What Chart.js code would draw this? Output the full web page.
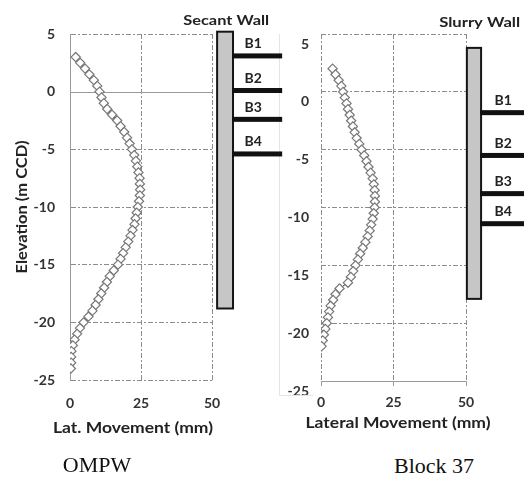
<!DOCTYPE html>
<html>
<head>
<meta charset="utf-8">
<script src="https://cdn.jsdelivr.net/npm/chart.js@4"></script>
<style>
  body { margin: 0; background: #fff; width: 524px; height: 478px; position: relative; overflow: hidden; }
  canvas { position: absolute; top: 0; }
  #ompw { left: 0; }
  #block { left: 262px; }
  .cap { position: absolute; width: 120px; text-align: center; font-family: "Liberation Serif", "Times New Roman", serif; font-size: 22px; line-height: 22px; color: #111; }
</style>
</head>
<body>
<canvas id="block" width="262" height="440"></canvas>
<canvas id="ompw" width="290" height="440"></canvas>
<div class="cap" style="left:37px;top:454px">OMPW</div>
<div class="cap" style="left:374px;top:455px">Block 37</div>
<script>
// OMPW inclinometer (elevation m CCD, lateral movement mm)
const ompwElev = [3, 2.5, 2, 1.5, 1, 0.5, 0, -0.5, -1, -1.5, -2, -2.5, -3, -3.5, -4, -4.5, -5, -5.5, -6, -6.5,
  -7, -7.5, -8, -8.5, -9, -9.5, -10, -10.5, -11, -11.5, -12, -12.5, -13, -13.5, -14, -14.5, -15, -15.5, -16, -16.5,
  -17, -17.5, -18, -18.5, -19, -19.5, -20, -20.5, -21, -21.5, -22, -22.5, -23, -23.5, -24];
const ompwMove = [2.0, 3.6, 5.3, 6.8, 8.4, 9.6, 10.4, 11.1, 11.9, 13.1, 14.8, 16.6, 17.8, 19.1, 20.1, 21.0, 21.8, 22.6, 23.2, 23.7,
  24.1, 24.5, 24.6, 24.7, 24.6, 24.3, 23.9, 23.5, 23.1, 22.7, 22.0, 21.3, 20.5, 19.6, 18.7, 17.8, 16.9, 15.4, 14.0, 13.0,
  12.0, 11.0, 10.0, 9.0, 7.9, 6.5, 4.8, 3.5, 2.5, 1.6, 1.0, 0.5, 0.4, 0.4, 0.3];

// Block 37 inclinometer
const blockElev = [2, 1.5, 1, 0.5, 0, -0.5, -1, -1.5, -2, -2.5, -3, -3.5, -4, -4.5, -5, -5.5, -6, -6.5, -7, -7.5,
  -8, -8.5, -9, -9.5, -10, -10.5, -11, -11.5, -12, -12.5, -13, -13.5, -14, -14.5, -15, -15.5, -16, -16.5, -17, -17.5,
  -18, -18.5, -19, -19.5, -20, -20.5, -21, -21.5, -22];
const blockMove = [4.0, 5.0, 6.1, 7.0, 7.6, 8.2, 8.8, 9.3, 9.9, 10.4, 11.0, 11.6, 12.3, 13.2, 14.0, 14.9, 15.7, 16.4, 17.1, 17.8,
  18.2, 18.5, 18.6, 18.6, 18.5, 18.2, 17.8, 17.3, 16.8, 16.1, 15.3, 14.4, 13.5, 12.7, 11.9, 11.1, 10.3, 9.3, 6.4, 5.0,
  4.2, 3.3, 2.8, 2.4, 2.0, 1.5, 1.0, 0.6, 0.2];

// walls and struts (elevations)
const strutNames = ['B1', 'B2', 'B3', 'B4'];
const secantStruts = [3.1, 0.1, -2.4, -5.4];
const secantWall = { top: 5.2, bottom: -18.8, x: [51.8, 57.4], strutEnd: 74.7, labelX: 64.5 };
const slurryStruts = [-1.8, -5.5, -8.8, -11.4];
const slurryWall = { top: 3.8, bottom: -17.9, x: [50.3, 55.2], strutEnd: 72, labelX: 62.8 };

const elevTicks = [5, 0, -5, -10, -15, -20, -25];
const moveTicks = [0, 25, 50];

const FONT = 'Lato, "Open Sans", sans-serif';
const DASH = [5, 2, 2, 2];

// text squeezed/stretched to the width it has in the scanned figure
function wideText(ctx, text, cx, cy, width, rot) {
  ctx.save();
  ctx.translate(cx, cy);
  if (rot) ctx.rotate(rot);
  ctx.scale(width / ctx.measureText(text).width, 1);
  ctx.fillText(text, 0, 0);
  ctx.restore();
}

const wallPlugin = {
  id: 'wall',
  beforeDatasetsDraw(chart, args, o) {
    const { ctx, chartArea: a, scales: { y } } = chart;
    ctx.save();
    if (o.zeroLine) {
      const py = Math.round(y.getPixelForValue(0)) + 0.5;
      ctx.strokeStyle = '#9a9a9a';
      ctx.lineWidth = 1;
      ctx.beginPath(); ctx.moveTo(a.left, py); ctx.lineTo(a.right, py); ctx.stroke();
    }
    if (o.ghost) {
      ctx.strokeStyle = '#e4e4e4';
      ctx.lineWidth = 1;
      const gx = a.left - 41.5, gy = a.bottom + 14.5;
      ctx.beginPath(); ctx.moveTo(gx, a.top); ctx.lineTo(gx, gy); ctx.lineTo(a.left - 8, gy); ctx.stroke();
    }
    ctx.restore();
  },
  afterDatasetsDraw(chart, args, o) {
    const { ctx, chartArea: a, scales: { x, y } } = chart;
    const w = o.wall;
    const x0 = x.getPixelForValue(w.x[0]), x1 = x.getPixelForValue(w.x[1]);
    const y0 = y.getPixelForValue(w.top), y1 = y.getPixelForValue(w.bottom);
    const xe = x.getPixelForValue(w.strutEnd), xl = x.getPixelForValue(w.labelX);
    ctx.save();
    ctx.fillStyle = '#c6c6c6';
    ctx.fillRect(x0, y0, x1 - x0, y1 - y0);
    ctx.strokeStyle = '#151515';
    ctx.lineWidth = 2;
    ctx.strokeRect(x0, y0, x1 - x0, y1 - y0);
    ctx.font = 'bold 14px ' + FONT;
    ctx.textAlign = 'center';
    ctx.textBaseline = 'middle';
    o.struts.forEach((e, i) => {
      const py = y.getPixelForValue(e);
      ctx.fillStyle = '#111';
      ctx.fillRect(x1 - 1, py - 2.5, xe - x1 + 1, 5);
      ctx.fillStyle = '#222';
      ctx.fillText(strutNames[i], xl, py - 12);
    });
    ctx.font = 'bold 14px ' + FONT;
    wideText(ctx, o.name, x.getPixelForValue(o.nameX), y.getPixelForValue(o.nameY), o.nameW);

    // axis titles
    ctx.font = 'bold 15px ' + FONT;
    ctx.fillStyle = '#222';
    const xt = o.xTitle;
    wideText(ctx, xt.text, (a.left + a.right) / 2 + xt.dx, a.bottom + xt.dy, xt.w);
    if (o.yTitle) {
      const yt = o.yTitle;
      wideText(ctx, yt.text, a.left + yt.dx, (a.top + a.bottom) / 2, yt.w, -Math.PI / 2);
    }
    ctx.restore();
  }
};

function dataset(elev, move) {
  return {
    data: elev.map((e, i) => ({ x: move[i], y: e })),
    showLine: true,
    borderColor: '#333',
    borderWidth: 1,
    pointStyle: 'rectRot',
    pointRadius: 4.6,
    pointBackgroundColor: '#fff',
    pointBorderColor: '#777',
    pointBorderWidth: 1.2
  };
}

// OMPW / secant wall
new Chart(document.getElementById('ompw'), {
  type: 'scatter',
  data: { datasets: [dataset(ompwElev, ompwMove)] },
  options: {
    responsive: false,
    animation: false,
    layout: { padding: { top: 34, right: 78, left: 0, bottom: 0 } },
    plugins: {
      legend: { display: false },
      tooltip: { enabled: false },
      wall: {
        wall: secantWall, struts: secantStruts, name: 'Secant Wall', nameX: 55, nameY: 6.2, nameW: 86, zeroLine: true,
        xTitle: { text: 'Lat. Movement (mm)', dx: -8, dy: 48, w: 160 },
        yTitle: { text: 'Elevation (m CCD)', dx: -48, w: 133 }
      }
    },
    scales: {
      x: {
        type: 'linear', min: 0, max: 50,
        afterBuildTicks: s => { s.ticks = moveTicks.map(v => ({ value: v })); },
        afterFit: s => { s.height = 60; },
        ticks: { padding: 15, color: '#333', font: { family: FONT, size: 14, weight: 'bold' } },
        grid: { color: '#8c8c8c', drawTicks: false },
        border: { display: false, dash: DASH }
      },
      y: {
        type: 'linear', min: -25, max: 5,
        afterBuildTicks: s => { s.ticks = elevTicks.map(v => ({ value: v })); },
        afterFit: s => { s.width = 70; },
        ticks: { padding: 15, color: '#333', font: { family: FONT, size: 14, weight: 'bold' } },
        grid: { color: c => (c.tick && c.tick.value === 0 ? 'rgba(0,0,0,0)' : '#8c8c8c'), drawTicks: false },
        border: { display: true, color: '#9a9a9a', dash: DASH }
      }
    }
  },
  plugins: [wallPlugin]
});

// Block 37 / slurry wall
new Chart(document.getElementById('block'), {
  type: 'scatter',
  data: { datasets: [dataset(blockElev, blockMove)] },
  options: {
    responsive: false,
    animation: false,
    layout: { padding: { top: 34, right: 58, left: 0, bottom: 0 } },
    plugins: {
      legend: { display: false },
      tooltip: { enabled: false },
      wall: {
        wall: slurryWall, struts: slurryStruts, name: 'Slurry Wall', nameX: 54.7, nameY: 6.0, nameW: 81, ghost: true,
        xTitle: { text: 'Lateral Movement (mm)', dx: 4.5, dy: 42, w: 185 }
      }
    },
    scales: {
      x: {
        type: 'linear', min: 0, max: 50,
        afterBuildTicks: s => { s.ticks = moveTicks.map(v => ({ value: v })); },
        afterFit: s => { s.height = 59; },
        ticks: { padding: 8, color: '#333', font: { family: FONT, size: 14, weight: 'bold' } },
        grid: { color: '#8c8c8c', drawTicks: true, tickLength: 5, tickColor: '#9a9a9a' },
        border: { display: true, color: '#9a9a9a', dash: DASH }
      },
      y: {
        type: 'linear', min: -25, max: 5,
        afterBuildTicks: s => { s.ticks = elevTicks.map(v => ({ value: v })); },
        afterFit: s => { s.width = 59; },
        ticks: { padding: 12, labelOffset: 10, color: '#333', font: { family: FONT, size: 14, weight: 'bold' } },
        grid: { color: '#8c8c8c', drawTicks: false },
        border: { display: false, dash: DASH }
      }
    }
  },
  plugins: [wallPlugin]
});
</script>
</body>
</html>
